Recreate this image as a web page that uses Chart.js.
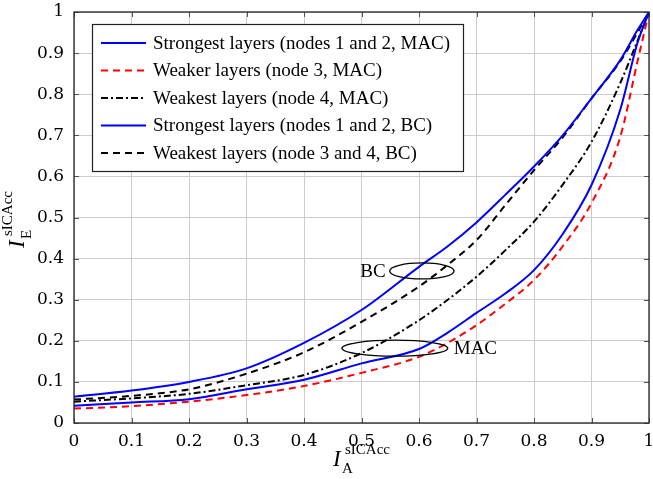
<!DOCTYPE html>
<html>
<head>
<meta charset="utf-8">
<script src="https://cdn.jsdelivr.net/npm/chart.js@4"></script>
<style>
  html, body { margin: 0; padding: 0; background: #fff; }
  #wrap { width: 653px; height: 479px; }
</style>
</head>
<body>
<div id="wrap"><canvas id="chart"></canvas></div>
<script>
// sample positions along I_A
const xs = [0, 0.1, 0.2, 0.3, 0.4, 0.5, 0.6, 0.65, 0.7, 0.75, 0.8, 0.85, 0.9, 0.95, 0.98, 1];

// MAC curves
const macStrongest = [0.042, 0.05, 0.058, 0.082, 0.105, 0.145, 0.18, 0.22, 0.268, 0.315, 0.372, 0.46, 0.579, 0.762, 0.925, 1];
const macWeaker = [0.035, 0.041, 0.052, 0.068, 0.09, 0.122, 0.161, 0.195, 0.238, 0.29, 0.348, 0.43, 0.535, 0.696, 0.88, 1];
const macWeakest = [0.052, 0.06, 0.071, 0.092, 0.117, 0.17, 0.25, 0.3, 0.356, 0.42, 0.49, 0.58, 0.684, 0.827, 0.93, 1];

// BC curves
const bcStrongest = [0.064, 0.079, 0.1, 0.133, 0.195, 0.275, 0.38, 0.43, 0.488, 0.555, 0.624, 0.7, 0.79, 0.883, 0.956, 1];
const bcWeakest = [0.057, 0.066, 0.082, 0.12, 0.172, 0.246, 0.332, 0.385, 0.445, 0.53, 0.615, 0.695, 0.79, 0.88, 0.95, 1];

const labels = [
  "Strongest layers (nodes 1 and 2, MAC)",
  "Weaker layers (node 3, MAC)",
  "Weakest layers (node 4, MAC)",
  "Strongest layers (nodes 1 and 2, BC)",
  "Weakest layers (node 3 and 4, BC)",
];
const colors = ["#0000ff", "#ff0000", "#000000", "#0000ff", "#000000"];
const dashes = [[], [7, 5], [7, 3, 2, 3], [], [7, 5]];

const tickValues = [0, 0.1, 0.2, 0.3, 0.4, 0.5, 0.6, 0.7, 0.8, 0.9, 1];

// ellipse annotations: [cx, cy, rx, ry] in data units
const bcEllipse = [0.605, 0.37, 0.056, 0.0195];
const macEllipse = [0.558, 0.182, 0.092, 0.0195];

const series = [macStrongest, macWeaker, macWeakest, bcStrongest, bcWeakest];

const SERIF = "'Liberation Serif', 'Times New Roman', serif";
const TICKFONT = "'DejaVu Serif', serif";

function fmt(v) {
  if (v === 0) return "0";
  if (v === 1) return "1";
  return v.toFixed(1);
}

function mathLabel(ctx, sub, sup) {
  // draws I_sub^sup starting at (0,0) baseline
  ctx.fillStyle = "#000";
  ctx.textAlign = "left";
  ctx.textBaseline = "alphabetic";
  ctx.font = "italic 23px " + SERIF;
  ctx.fillText("I", 0, 0);
  ctx.font = "15px " + SERIF;
  ctx.fillText(sup, 12, -12);
  ctx.fillText(sub, 9, 7);
}

const overlay = {
  id: "overlay",
  afterDraw(chart) {
    const ctx = chart.ctx;
    const a = chart.chartArea;
    const sx = chart.scales.x, sy = chart.scales.y;
    ctx.save();

    // inward ticks
    ctx.strokeStyle = "#555";
    ctx.lineWidth = 1;
    ctx.beginPath();
    tickValues.forEach(v => {
      const px = Math.round(sx.getPixelForValue(v)) + 0.5;
      ctx.moveTo(px, a.bottom); ctx.lineTo(px, a.bottom - 5);
      ctx.moveTo(px, a.top); ctx.lineTo(px, a.top + 5);
      const py = Math.round(sy.getPixelForValue(v)) + 0.5;
      ctx.moveTo(a.left, py); ctx.lineTo(a.left + 5, py);
      ctx.moveTo(a.right, py); ctx.lineTo(a.right - 5, py);
    });
    ctx.stroke();

    // frame
    ctx.strokeStyle = "#222";
    ctx.lineWidth = 1.3;
    ctx.strokeRect(a.left, a.top, a.right - a.left, a.bottom - a.top);

    // ellipses
    ctx.lineWidth = 1.3;
    ctx.strokeStyle = "#000";
    [bcEllipse, macEllipse].forEach(e => {
      const cx = sx.getPixelForValue(e[0]);
      const cy = sy.getPixelForValue(e[1]);
      const rx = sx.getPixelForValue(e[0] + e[2]) - cx;
      const ry = cy - sy.getPixelForValue(e[1] + e[3]);
      ctx.beginPath();
      ctx.ellipse(cx, cy, rx, ry, 0, 0, Math.PI * 2);
      ctx.stroke();
    });
    ctx.fillStyle = "#000";
    ctx.font = "19px " + SERIF;
    ctx.textBaseline = "middle";
    ctx.textAlign = "right";
    ctx.fillText("BC", sx.getPixelForValue(bcEllipse[0] - bcEllipse[2]) - 4, sy.getPixelForValue(bcEllipse[1]) + 1);
    ctx.textAlign = "left";
    ctx.fillText("MAC", sx.getPixelForValue(macEllipse[0] + macEllipse[2]) + 6, sy.getPixelForValue(macEllipse[1]) + 1);

    // legend
    const lx = 92, ly = 24, lw = 371, lh = 147;
    ctx.fillStyle = "#fff";
    ctx.fillRect(lx, ly, lw, lh);
    ctx.strokeStyle = "#222";
    ctx.lineWidth = 1.2;
    ctx.strokeRect(lx + 0.5, ly + 0.5, lw, lh);
    ctx.font = "19px " + SERIF;
    ctx.textBaseline = "middle";
    ctx.textAlign = "left";
    labels.forEach((t, i) => {
      const yy = 43 + i * 27.5;
      ctx.strokeStyle = colors[i];
      ctx.lineWidth = 2;
      ctx.setLineDash(dashes[i]);
      ctx.beginPath();
      ctx.moveTo(101, yy); ctx.lineTo(146, yy);
      ctx.stroke();
      ctx.setLineDash([]);
      ctx.fillStyle = "#000";
      ctx.fillText(t, 153, yy + 1);
    });

    // axis titles
    ctx.save();
    ctx.translate(333, 466);
    mathLabel(ctx, "A", "sICAcc");
    ctx.restore();
    ctx.save();
    ctx.translate(24, 248);
    ctx.rotate(-Math.PI / 2);
    mathLabel(ctx, "E", "sICAcc");
    ctx.restore();

    ctx.restore();
  }
};

new Chart(document.getElementById("chart"), {
  type: "line",
  data: {
    datasets: series.map((vals, i) => ({
      label: labels[i],
      data: xs.map((x, j) => ({ x: x, y: vals[j] })),
      borderColor: colors[i],
      borderDash: dashes[i],
      borderWidth: 2,
      pointRadius: 0,
      fill: false,
      cubicInterpolationMode: "monotone",
    })),
  },
  options: {
    responsive: true,
    maintainAspectRatio: false,
    animation: false,
    layout: { padding: { top: 12, right: 4, left: 0, bottom: 0 } },
    plugins: { legend: { display: false }, tooltip: { enabled: false } },
    scales: {
      x: {
        type: "linear",
        min: 0,
        max: 1,
        afterBuildTicks: (s) => { s.ticks = tickValues.map(v => ({ value: v })); },
        afterFit: (s) => { s.height = 56; s.paddingLeft = 0; s.paddingRight = 0; },
        ticks: {
          callback: (v) => fmt(v),
          color: "#000",
          font: { family: TICKFONT, size: 17 },
          padding: 8,
          maxRotation: 0,
        },
        grid: { color: "#cccccc", lineWidth: 1, drawTicks: false },
        border: { display: false },
      },
      y: {
        type: "linear",
        min: 0,
        max: 1,
        afterBuildTicks: (s) => { s.ticks = tickValues.map(v => ({ value: v })); },
        afterFit: (s) => { s.width = 74; s.paddingTop = 0; s.paddingBottom = 0; },
        ticks: {
          callback: (v) => fmt(v),
          color: "#000",
          font: { family: TICKFONT, size: 17 },
          padding: 10,
        },
        grid: { color: "#cccccc", lineWidth: 1, drawTicks: false },
        border: { display: false },
      },
    },
  },
  plugins: [overlay],
});
</script>
</body>
</html>
